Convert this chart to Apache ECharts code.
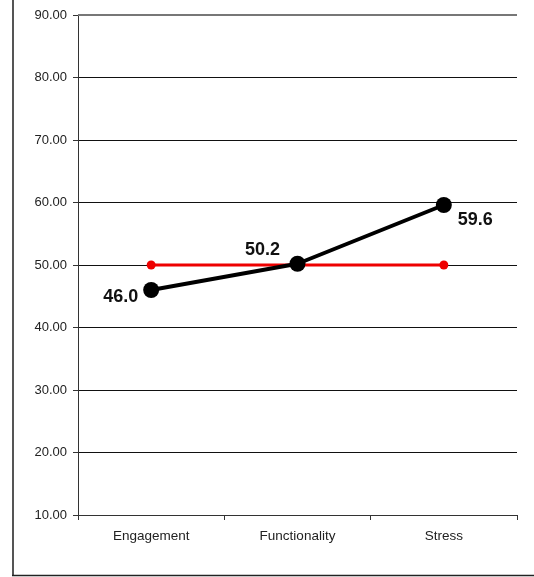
<!DOCTYPE html>
<html>
<head>
<meta charset="utf-8">
<script src="https://cdn.jsdelivr.net/npm/echarts@6/dist/echarts.min.js"></script>
<style>
  html, body { margin: 0; padding: 0; background: #fff; }
  #chart { width: 534px; height: 577px; }
</style>
</head>
<body>
<div id="chart"></div>
<script>
// Scale names along the x axis
const categories = ['Engagement', 'Functionality', 'Stress'];
// Measured scores (black line) and reference norm (red line)
const scores = [46.0, 50.2, 59.6];
const norm = [50, 50, 50];
// Value axis range
const yMin = 10, yMax = 90, yStep = 10;

const chart = echarts.init(document.getElementById('chart'), null, { renderer: 'canvas' });

const FONT = 'Liberation Sans, Arial, sans-serif';
const labelPos = ['left', 'top', 'right'];
const labelOffset = [[0, 7], [-35, 8], [1, 15]];

chart.setOption({
  animation: false,
  backgroundColor: '#fff',
  grid: { left: 78, right: 17, top: 15, bottom: 62, containLabel: false },
  xAxis: {
    type: 'category',
    data: categories,
    boundaryGap: true,
    axisLine: { show: true, lineStyle: { color: '#333', width: 1 } },
    axisTick: { show: true, alignWithLabel: false, length: 5, lineStyle: { color: '#333' } },
    axisLabel: { color: '#222', fontFamily: FONT, fontSize: 13.5, margin: 14 }
  },
  yAxis: {
    type: 'value',
    min: yMin, max: yMax, interval: yStep,
    axisLine: { show: true, lineStyle: { color: '#333', width: 1 } },
    axisTick: { show: true, length: 5, lineStyle: { color: '#333' } },
    axisLabel: {
      color: '#222', fontFamily: FONT, fontSize: 13, margin: 11,
      formatter: v => v.toFixed(2)
    },
    splitLine: {
      show: true,
      lineStyle: { color: '#111', width: 1 }
    }
  },
  series: [
    {
      name: 'Norm',
      type: 'line',
      data: norm,
      symbol: 'circle',
      symbolSize: 9,
      lineStyle: { color: '#ee0000', width: 3 },
      itemStyle: { color: '#ee0000' },
      z: 3
    },
    {
      name: 'Score',
      type: 'line',
      data: scores.map((v, i) => ({
        value: v,
        label: {
          show: true,
          position: labelPos[i],
          offset: labelOffset[i],
          formatter: p => p.value.toFixed(1),
          fontFamily: FONT,
          fontSize: 18,
          fontWeight: 'bold',
          color: '#111'
        }
      })),
      symbol: 'circle',
      symbolSize: 16,
      lineStyle: { color: '#000', width: 4 },
      itemStyle: { color: '#000' },
      z: 4
    }
  ],
  graphic: [
    // Outer frame: left and bottom edges
    { type: 'line', z: 100, shape: { x1: 13, y1: 0, x2: 13, y2: 576 }, style: { stroke: '#555', lineWidth: 2 } },
    { type: 'line', z: 100, shape: { x1: 12, y1: 575.5, x2: 534, y2: 575.5 }, style: { stroke: '#222', lineWidth: 1.5 } },
    // Heavier grey top rule at the maximum
    { type: 'line', z: 100, shape: { x1: 78, y1: 15, x2: 517, y2: 15 }, style: { stroke: '#777', lineWidth: 2 } }
  ]
});
</script>
</body>
</html>
